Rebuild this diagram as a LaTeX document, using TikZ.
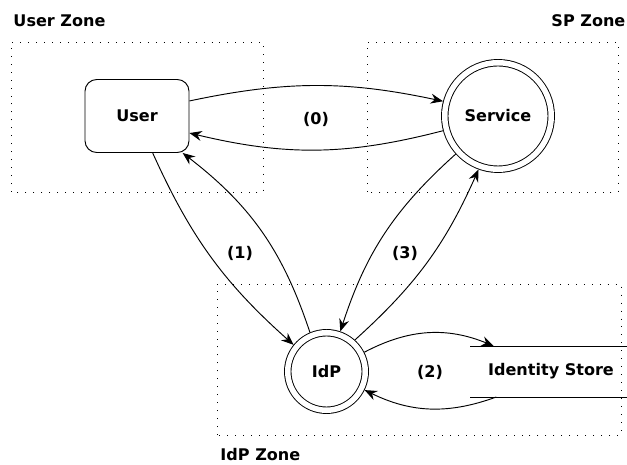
\documentclass[tikz,border=0pt]{standalone}
\usepackage{fontspec}
\setmainfont{DejaVu Sans}
\usepackage{tikz}
\usetikzlibrary{arrows.meta,positioning,calc}

\begin{document}
\begin{tikzpicture}[
  font=\fontsize{13.7}{16}\selectfont\bfseries,
  line width=0.8pt,
  zone/.style={draw, line width=0.75pt, dash pattern=on 0.75pt off 6.05pt},
  zlabel/.style={anchor=west, inner sep=0pt},
  actor/.style={rectangle, rounded corners=10pt, draw,
                minimum width=3.12cm, minimum height=2.19cm, outer sep=0.4pt},
  party/.style={circle, draw, double, double distance=4.7pt, outer sep=3.15pt},
  store/.style={rectangle, minimum width=4.86cm, minimum height=1.53cm, outer sep=0pt},
  step label/.style={inner sep=1pt},
  arr/.style={-{Stealth[length=10.5pt, width=8.5pt, inset=3.5pt]}}
]
\useasboundingbox (0,0) rectangle (18.81,13.95);

% Zones
\draw[zone] (0.33,8.19) rectangle (7.89,12.69);
\node[zlabel] (userzone) at (0.39,13.33) {User Zone};
\draw[zone] (11.01,8.19) rectangle (18.54,12.69);
\node[zlabel] (spzone) at (16.53,13.33) {SP Zone};
\draw[zone] (6.51,0.90) rectangle (18.63,5.43);
\node[zlabel] (idpzone) at (6.60,0.32) {IdP Zone};

% Parties
\node[actor] (user) at (4.11,10.47) {User};
\node[party, minimum size=3.195cm] (service) at (14.94,10.47) {Service};
\node[party, minimum size=2.325cm] (idp) at (9.795,2.805) {IdP};
\node[store] (store) at (16.53,2.805) {Identity Store};
\draw (store.north west) -- (store.north east);
\draw (store.south west) -- (store.south east);

% Flows
\draw[arr] (user.16) to[bend left=12] (service.165);
\draw[arr] (service.195) to[bend left=14] (user.342);
\draw[arr] (user.293) to[bend right=12] (idp.141);
\draw[arr] (idp.113) to[bend right=17] (user.321);
\draw[arr] (service.222) to[bend right=15] (idp.71);
\draw[arr] (idp.48) to[bend right=12] (service.250);
\draw[arr] (idp.27) to[bend left=25] (store.156);
\draw[arr] (store.205) to[bend left=23] (idp.334);

% Step numbers
\node[step label] (s0) at (9.48,10.38) {(0)};
\node[step label] (s1) at (7.20,6.36) {(1)};
\node[step label] (s3) at (12.15,6.36) {(3)};
\node[step label] (s2) at (12.90,2.79) {(2)};
\end{tikzpicture}
\end{document}
